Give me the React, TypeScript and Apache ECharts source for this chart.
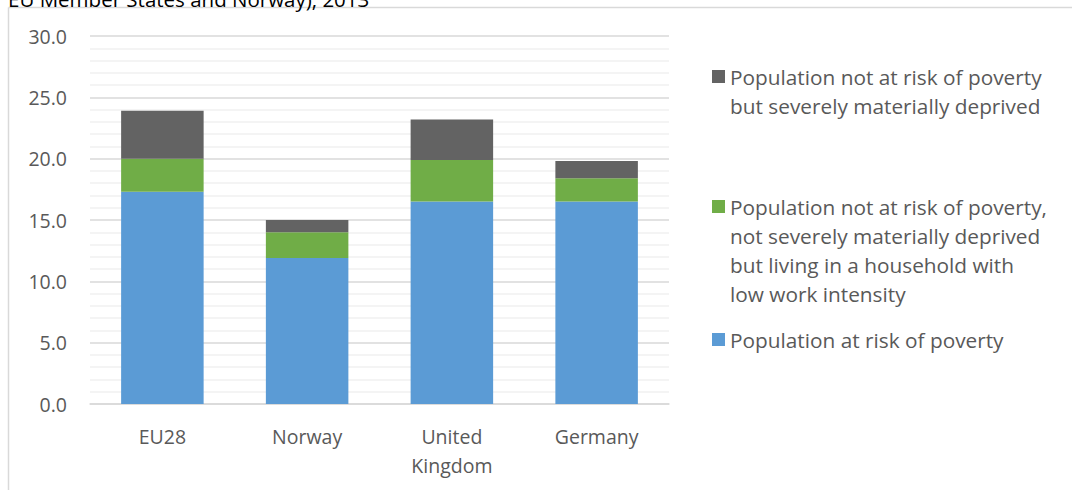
import React, { useEffect, useRef } from "react";
import * as echarts from "echarts";

const categories = ["EU28", "Norway", "United Kingdom", "Germany"];
const atRiskOfPoverty = [17.3, 11.9, 16.5, 16.5];
const lowWorkIntensity = [2.7, 2.1, 3.4, 1.9];
const severelyDeprived = [3.9, 1.0, 3.3, 1.4];
const yTicks = [0, 5, 10, 15, 20, 25, 30];

const seriesNames = [
  "Population at risk of poverty",
  "Population not at risk of poverty, not severely materially deprived but living in a household with low work intensity",
  "Population not at risk of poverty but severely materially deprived",
];
const legendLabels = [
  "Population at risk of poverty",
  "Population not at risk of poverty,\nnot severely materially deprived\nbut living in a household with\nlow work intensity",
  "Population not at risk of poverty\nbut severely materially deprived",
];
const titleText = "EU Member States and Norway), 2013";

const FONT = "'Open Sans', sans-serif";
const COLORS = ["#5B9BD5", "#70AD47", "#636363"];

export default function App() {
  const ref = useRef<HTMLDivElement>(null);
  useEffect(() => {
    if (!ref.current) return;
    const chart = echarts.init(ref.current, undefined, { renderer: "svg" });
    const LH = 29;
    const mkLegend = (idx: number, top: number) => {
      const lines = legendLabels[idx].split("\n").length;
      const h = lines * LH;
      const sq0 = LH / 2 - 6.5;
      const icon = `path://M0,0M0,${sq0}H13V${sq0 + 13}H0Z M0,${h}`;
      return {
        data: [seriesNames[idx]],
        left: 712,
        top,
        padding: 0,
        orient: "vertical",
        itemWidth: 13,
        itemHeight: h,
        itemGap: 6,
        icon,
        selectedMode: false,
        formatter: () => legendLabels[idx],
        textStyle: {
          fontFamily: FONT,
          fontSize: 20.8,
          color: "#595959",
          lineHeight: LH,
        },
      };
    };
    const datasets = [atRiskOfPoverty, lowWorkIntensity, severelyDeprived];
    chart.setOption({
      animation: false,
      backgroundColor: "#ffffff",
      textStyle: { fontFamily: FONT },
      grid: { left: 90, right: 403, top: 36, bottom: 86, containLabel: false },
      legend: [mkLegend(2, 62), mkLegend(1, 192), mkLegend(0, 325)],
      xAxis: {
        type: "category",
        data: categories,
        axisTick: { show: false },
        axisLine: { show: true, lineStyle: { color: "#d9d9d9", width: 1.5 } },
        axisLabel: {
          fontFamily: FONT,
          fontSize: 19.5,
          color: "#595959",
          lineHeight: 29,
          margin: 18,
          formatter: (v: string) => (v === "United Kingdom" ? "United\nKingdom" : v),
        },
      },
      yAxis: {
        type: "value",
        min: yTicks[0],
        max: yTicks[yTicks.length - 1],
        interval: 5,
        axisLine: { show: false },
        axisTick: { show: false },
        axisLabel: {
          fontFamily: FONT,
          fontSize: 19.5,
          color: "#595959",
          margin: 23,
          formatter: (v: number) => v.toFixed(1),
        },
        splitLine: { show: true, lineStyle: { color: "#d9d9d9", width: 1.5 } },
        minorTick: { show: false, splitNumber: 5 },
        minorSplitLine: { show: true, lineStyle: { color: "#f0f0f0", width: 1.5 } },
      },
      series: datasets.map((d, i) => ({
        name: seriesNames[i],
        type: "bar",
        stack: "total",
        data: d,
        barWidth: "57%",
        itemStyle: { color: COLORS[i] },
      })),
      graphic: [
        {
          type: "line",
          shape: { x1: 8.5, y1: 7.5, x2: 1072, y2: 7.5 },
          style: { stroke: "#d9d9d9", lineWidth: 1.5 },
        },
        {
          type: "line",
          shape: { x1: 8.5, y1: 7.5, x2: 8.5, y2: 490 },
          style: { stroke: "#d9d9d9", lineWidth: 1.5 },
        },
        {
          type: "text",
          x: 8,
          y: -12,
          style: {
            text: titleText,
            fontFamily: FONT,
            fontSize: 20.5,
            fill: "#000000",
            verticalAlign: "top",
          },
        },
      ],
    });
    return () => chart.dispose();
  }, []);
  return (
    <div
      ref={ref}
      style={{ position: "fixed", left: 0, top: 0, width: 1072, height: 490 }}
    />
  );
}
